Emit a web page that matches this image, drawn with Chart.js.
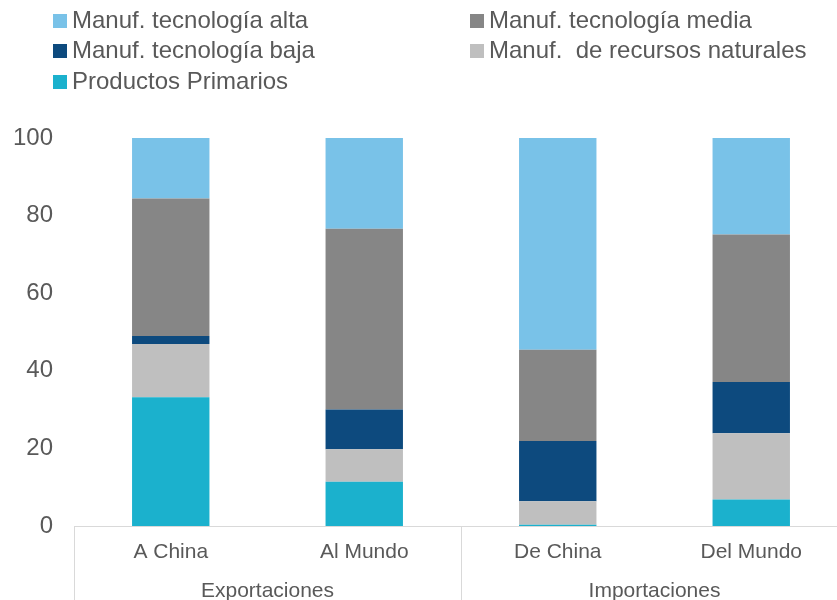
<!DOCTYPE html>
<html>
<head>
<meta charset="utf-8">
<script src="https://cdn.jsdelivr.net/npm/chart.js@4"></script>
<style>
  html, body { margin: 0; padding: 0; background: #fff; overflow: hidden; }
  #wrap { width: 837px; height: 600px; overflow: hidden; position: relative; }
  canvas { display: block; }
</style>
</head>
<body>
<div id="wrap"><canvas id="c" width="848" height="600"></canvas></div>
<script>
// ---- data ----
const categories = ["A China", "Al Mundo", "De China", "Del Mundo"];
const groups = ["Exportaciones", "Importaciones"];
const primarios = [33.2, 11.4, 0.3, 6.8];
const recursosNaturales = [13.7, 8.4, 6.1, 17.1];
const tecBaja = [2.1, 10.2, 15.5, 13.2];
const tecMedia = [35.4, 46.6, 23.5, 38.0];
const tecAlta = [15.6, 23.4, 54.6, 24.9];
const yTicks = [0, 20, 40, 60, 80, 100];

const FONT = '"Liberation Sans", Arial, sans-serif';
const TXT = '#595959';

const datasets = [
  { label: 'Productos Primarios', data: primarios, backgroundColor: '#1BB1CD' },
  { label: 'Manuf.  de recursos naturales', data: recursosNaturales, backgroundColor: '#BFBFBF' },
  { label: 'Manuf. tecnología baja', data: tecBaja, backgroundColor: '#0D4A7E' },
  { label: 'Manuf. tecnología media', data: tecMedia, backgroundColor: '#868686' },
  { label: 'Manuf. tecnología alta', data: tecAlta, backgroundColor: '#79C2E8' }
];
// legend grid order: [datasetIndex, col, row]
const legendLayout = [[4,0,0],[3,1,0],[2,0,1],[1,1,1],[0,0,2]];

const customPlugin = {
  id: 'custom',
  afterDraw(chart) {
    const ctx = chart.ctx;
    const x = chart.scales.x;
    const area = chart.chartArea;
    ctx.save();
    // legend
    const colBox = [53, 470], colText = [72, 489], rowY = [20, 50, 81];
    ctx.font = '24px ' + FONT;
    ctx.textBaseline = 'middle';
    ctx.textAlign = 'left';
    legendLayout.forEach(([di, col, row]) => {
      const ds = chart.data.datasets[di];
      ctx.fillStyle = ds.backgroundColor;
      ctx.fillRect(colBox[col], rowY[row] - 6, 14, 14);
      ctx.fillStyle = TXT;
      ctx.fillText(ds.label, colText[col], rowY[row] + 1);
    });
    // group separators and labels
    const step = (x.getPixelForValue(1) - x.getPixelForValue(0));
    const left = x.getPixelForValue(0) - step / 2;
    ctx.strokeStyle = '#D9D9D9';
    ctx.lineWidth = 1;
    for (let g = 0; g <= groups.length; g++) {
      const px = Math.round(left + g * 2 * step) + 0.5;
      ctx.beginPath();
      ctx.moveTo(px, area.bottom);
      ctx.lineTo(px, chart.height);
      ctx.stroke();
    }
    ctx.font = '21px ' + FONT;
    ctx.fillStyle = TXT;
    ctx.textAlign = 'center';
    ctx.textBaseline = 'alphabetic';
    groups.forEach((g, i) => {
      const cx = left + (i * 2 + 1) * step;
      ctx.fillText(g, cx, 597);
    });
    ctx.restore();
  }
};

new Chart(document.getElementById('c'), {
  type: 'bar',
  data: { labels: categories, datasets },
  options: {
    responsive: false,
    animation: false,
    layout: { padding: { top: 138, left: 0, right: 0, bottom: 0 } },
    plugins: { legend: { display: false }, tooltip: { enabled: false } },
    datasets: { bar: { barPercentage: 0.4, categoryPercentage: 1.0, borderWidth: 0 } },
    scales: {
      x: {
        stacked: true,
        grid: { display: false, drawTicks: false },
        border: { display: true, color: '#D9D9D9', width: 1 },
        ticks: { font: { family: FONT, size: 21 }, color: TXT, padding: 14, maxRotation: 0 },
        afterFit(s) { s.height = 74; }
      },
      y: {
        stacked: true,
        min: 0, max: 100,
        afterBuildTicks(s) { s.ticks = yTicks.map(v => ({ value: v })); },
        grid: { display: false, drawTicks: false },
        border: { display: false },
        ticks: { font: { family: FONT, size: 24 }, color: TXT, padding: 21 },
        afterFit(s) { s.width = 74; }
      }
    }
  },
  plugins: [customPlugin]
});
</script>
</body>
</html>
